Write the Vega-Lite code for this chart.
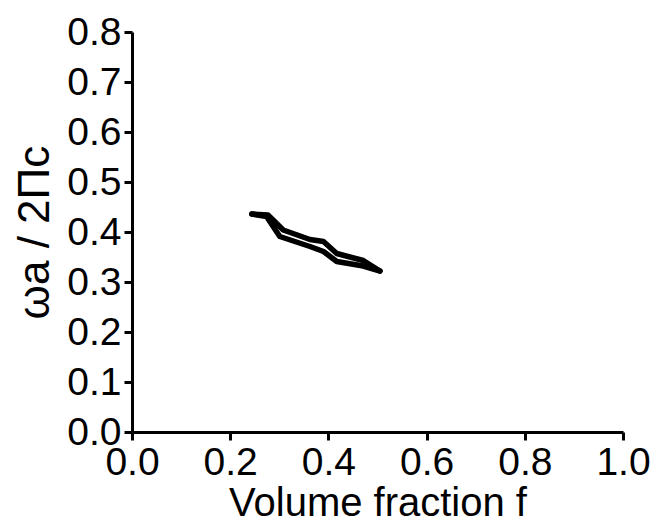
{
  "$schema": "https://vega.github.io/schema/vega-lite/v6.json",
  "autosize": {"type": "none"},
  "width": 491,
  "height": 400,
  "padding": {"left": 132, "top": 32, "right": 37, "bottom": 93},
  "background": "white",
  "config": {
    "view": {"stroke": null},
    "font": "Liberation Sans",
    "axis": {
      "grid": false,
      "domainColor": "black",
      "domainWidth": 3,
      "tickColor": "black",
      "tickWidth": 3,
      "tickSize": 8,
      "labelColor": "black",
      "titleColor": "black",
      "labelFont": "Liberation Sans",
      "titleFont": "Liberation Sans",
      "labelFontSize": 39,
      "titleFontSize": 40,
      "titleFontWeight": "normal"
    }
  },
  "data": {
    "values": [
      {"series": "upper", "i": 0, "f": 0.244, "w": 0.436},
      {"series": "upper", "i": 1, "f": 0.277, "w": 0.434},
      {"series": "upper", "i": 2, "f": 0.308, "w": 0.404},
      {"series": "upper", "i": 3, "f": 0.3625, "w": 0.385},
      {"series": "upper", "i": 4, "f": 0.39, "w": 0.381},
      {"series": "upper", "i": 5, "f": 0.417, "w": 0.357},
      {"series": "upper", "i": 6, "f": 0.471, "w": 0.343},
      {"series": "upper", "i": 7, "f": 0.505, "w": 0.322},
      {"series": "lower", "i": 0, "f": 0.244, "w": 0.436},
      {"series": "lower", "i": 1, "f": 0.274, "w": 0.431},
      {"series": "lower", "i": 2, "f": 0.301, "w": 0.391},
      {"series": "lower", "i": 3, "f": 0.3625, "w": 0.371},
      {"series": "lower", "i": 4, "f": 0.39, "w": 0.361},
      {"series": "lower", "i": 5, "f": 0.417, "w": 0.341},
      {"series": "lower", "i": 6, "f": 0.471, "w": 0.332},
      {"series": "lower", "i": 7, "f": 0.505, "w": 0.322}
    ]
  },
  "mark": {"type": "line", "color": "black", "strokeWidth": 5.5, "strokeJoin": "round", "strokeCap": "round"},
  "encoding": {
    "x": {
      "field": "f", "type": "quantitative",
      "scale": {"domain": [0, 1], "nice": false, "zero": false},
      "axis": {"values": [0, 0.2, 0.4, 0.6, 0.8, 1.0], "format": ".1f", "title": "Volume fraction f", "labelPadding": 3, "titlePadding": 1, "labelFlush": false}
    },
    "y": {
      "field": "w", "type": "quantitative",
      "scale": {"domain": [0, 0.8], "nice": false, "zero": false},
      "axis": {"values": [0, 0.1, 0.2, 0.3, 0.4, 0.5, 0.6, 0.7, 0.8], "format": ".1f", "title": "ωa / 2Πc", "titleFontSize": 44, "labelPadding": 3, "titlePadding": 9, "labelFlush": false}
    },
    "detail": {"field": "series"},
    "order": {"field": "i"}
  }
}
